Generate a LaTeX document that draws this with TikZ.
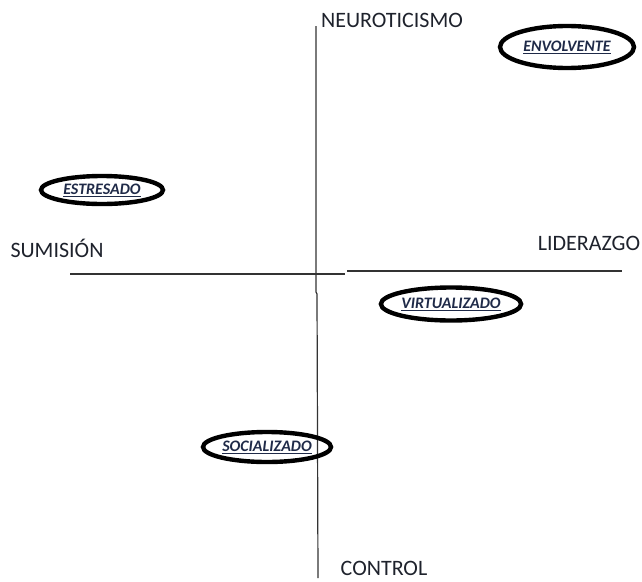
\documentclass[tikz,border=0pt]{standalone}
\usepackage{fontspec}
\setmainfont{Carlito}
\usetikzlibrary{shapes.geometric}
\definecolor{axistext}{HTML}{1E222C}
\definecolor{tagtext}{HTML}{1F2A48}
\tikzset{
  axis/.style={draw=black!80, line width=1.2pt},
  axislabel/.style={text=axistext, font=\fontsize{22}{26}\selectfont, inner sep=0pt},
  tag/.style={ellipse, draw=black, line width=4.4pt, inner sep=0pt,
    text=tagtext, font=\fontsize{16}{18}\selectfont\bfseries\itshape},
}
\newcommand{\ul}[1]{\underline{#1}}
\begin{document}
\begin{tikzpicture}[x=1pt, y=-1pt]
  \useasboundingbox (0,0) rectangle (642,581);
  % axes
  \coordinate (vtop) at (316,26);
  \coordinate (vbot) at (318,578);
  \coordinate (hl) at (70,274);
  \coordinate (hstep) at (345,274);
  \coordinate (hstepb) at (347,271);
  \coordinate (hr) at (622,271);
  \draw[axis] (vtop) -- (316,292) -- (317,294) -- (vbot);
  \draw[axis] (hl) -- (hstep);
  \draw[axis] (hstepb) -- (hr);
  % axis labels
  \node[axislabel] (neuro) at (392,20) {NEUROTICISMO};
  \node[axislabel] (sumi) at (57,248) {SUMISIÓN};
  \node[axislabel] (lider) at (589,243) {LIDERAZGO};
  \node[axislabel] (ctrl) at (384,568) {CONTROL};
  % tagged profiles
  \node[tag, minimum width=134pt, minimum height=42pt] (env) at (567,47) {\ul{ENVOLVENTE}};
  \node[tag, minimum width=122pt, minimum height=28pt] (estr) at (102,190) {\ul{ESTRESADO}};
  \node[tag, minimum width=134pt, minimum height=33pt] (virt) at (451,304) {\ul{VIRTUALIZADO}};
  \node[tag, minimum width=128pt, minimum height=30pt] (soc) at (267,447) {\ul{SOCIALIZADO}};
\end{tikzpicture}
\end{document}
